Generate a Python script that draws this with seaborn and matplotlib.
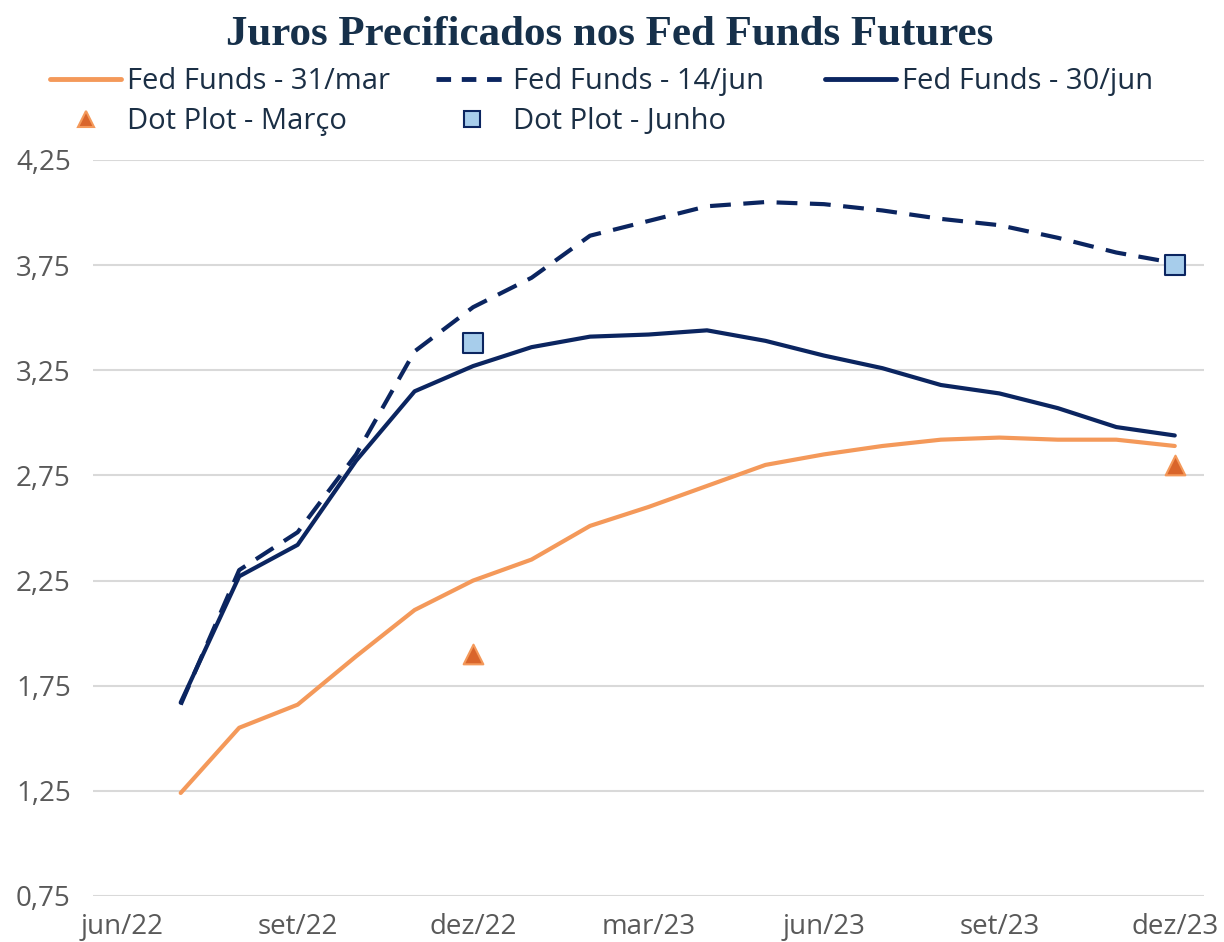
import numpy as np
import pandas as pd
import matplotlib
matplotlib.use('Agg')
import matplotlib.pyplot as plt
import seaborn as sns
from matplotlib.lines import Line2D

# monthly categories on the x axis
months = ['jun/22', 'jul/22', 'ago/22', 'set/22', 'out/22', 'nov/22', 'dez/22',
          'jan/23', 'fev/23', 'mar/23', 'abr/23', 'mai/23', 'jun/23', 'jul/23',
          'ago/23', 'set/23', 'out/23', 'nov/23', 'dez/23']

# series start in jul/22
ff_31mar = [1.24, 1.55, 1.66, 1.89, 2.11, 2.25, 2.35, 2.51, 2.60, 2.70, 2.80,
            2.85, 2.89, 2.92, 2.93, 2.92, 2.92, 2.89]
ff_14jun = [1.66, 2.30, 2.48, 2.85, 3.34, 3.55, 3.69, 3.89, 3.96, 4.03, 4.05,
            4.04, 4.01, 3.97, 3.94, 3.88, 3.81, 3.76]
ff_30jun = [1.67, 2.27, 2.42, 2.82, 3.15, 3.27, 3.36, 3.41, 3.42, 3.44, 3.39,
            3.32, 3.26, 3.18, 3.14, 3.07, 2.98, 2.94]

dot_months = ['dez/22', 'dez/23']
dot_marco = [1.90, 2.80]
dot_junho = [3.38, 3.75]

yticks = [0.75, 1.25, 1.75, 2.25, 2.75, 3.25, 3.75, 4.25]
xtick_labels = ['jun/22', 'set/22', 'dez/22', 'mar/23', 'jun/23', 'set/23', 'dez/23']

orange = '#F4995A'
navy = '#0B2560'
tri_fill = '#D9652B'
sq_fill = '#A7CDEB'
text_col = '#1B2F45'
tick_col = '#595959'

sns.set_style('white')
plt.rcParams['font.family'] = ['Open Sans', 'DejaVu Sans']

pos = {m: i for i, m in enumerate(months)}
df = pd.DataFrame({
    'x': [pos[m] for m in months[1:]],
    'mar': ff_31mar,
    'jun14': ff_14jun,
    'jun30': ff_30jun,
})
dots = pd.DataFrame({'x': [pos[m] for m in dot_months], 'marco': dot_marco, 'junho': dot_junho})

fig = plt.figure(figsize=(12.24, 9.42), dpi=100)
ax = fig.add_axes([93 / 1224, 1 - 896 / 942, (1204 - 93) / 1224, (896 - 160) / 942])

sns.lineplot(data=df, x='x', y='mar', ax=ax, color=orange, lw=3)
sns.lineplot(data=df, x='x', y='jun14', ax=ax, color=navy, lw=3)
ax.lines[-1].set_dashes((5, 3))
sns.lineplot(data=df, x='x', y='jun30', ax=ax, color=navy, lw=3)
sns.scatterplot(data=dots, x='x', y='marco', ax=ax, marker='^', s=200,
                color=tri_fill, edgecolor=orange, linewidth=1.5, zorder=5)
sns.scatterplot(data=dots, x='x', y='junho', ax=ax, marker='s', s=200,
                color=sq_fill, edgecolor=navy, linewidth=1.5, zorder=5)

ax.set_xlim(-0.5, len(months) - 0.5)
ax.set_ylim(0.75, 4.25)
ax.set_yticks(yticks)
ax.set_yticklabels([f'{v:.2f}'.replace('.', ',') for v in yticks])
ax.set_xticks([pos[m] for m in xtick_labels])
ax.set_xticklabels(xtick_labels)
ax.tick_params(axis='both', length=0, labelsize=20, colors=tick_col)
ax.tick_params(axis='y', pad=16)
ax.tick_params(axis='x', pad=12)
ax.grid(axis='y', color='#D9D9D9', lw=1.5)
ax.set_axisbelow(True)
for s in ax.spines.values():
    s.set_visible(False)
ax.set_xlabel('')
ax.set_ylabel('')

fig.text(0.498, 0.963, 'Juros Precificados nos Fed Funds Futures', ha='center', va='center',
         fontsize=31, fontweight='bold', color='#16304A', family=['Liberation Serif', 'DejaVu Serif'])

h_mar = Line2D([], [], color=orange, lw=3.5)
h_14 = Line2D([], [], color=navy, lw=3.5, dashes=(3, 2.2))
h_30 = Line2D([], [], color=navy, lw=3.5)
h_tri = Line2D([], [], ls='none', marker='^', ms=11, color=tri_fill, mec=orange, mew=1.5)
h_sq = Line2D([], [], ls='none', marker='s', ms=11, color=sq_fill, mec=navy, mew=1.5)

leg_kw = dict(frameon=False, fontsize=21, handlelength=2.45, handletextpad=0.2,
              labelspacing=0.38, loc='upper left', borderpad=0, borderaxespad=0,
              labelcolor=text_col)
top = 1 - 67 / 942
fig.legend([h_mar, h_tri], ['Fed Funds - 31/mar', 'Dot Plot - Março'],
           bbox_to_anchor=(50 / 1224, top), **leg_kw)
fig.legend([h_14, h_sq], ['Fed Funds - 14/jun', 'Dot Plot - Junho'],
           bbox_to_anchor=(436 / 1224, top), **leg_kw)
fig.legend([h_30], ['Fed Funds - 30/jun'],
           bbox_to_anchor=(825 / 1224, top), **leg_kw)

fig.savefig('out.png', dpi=100)
